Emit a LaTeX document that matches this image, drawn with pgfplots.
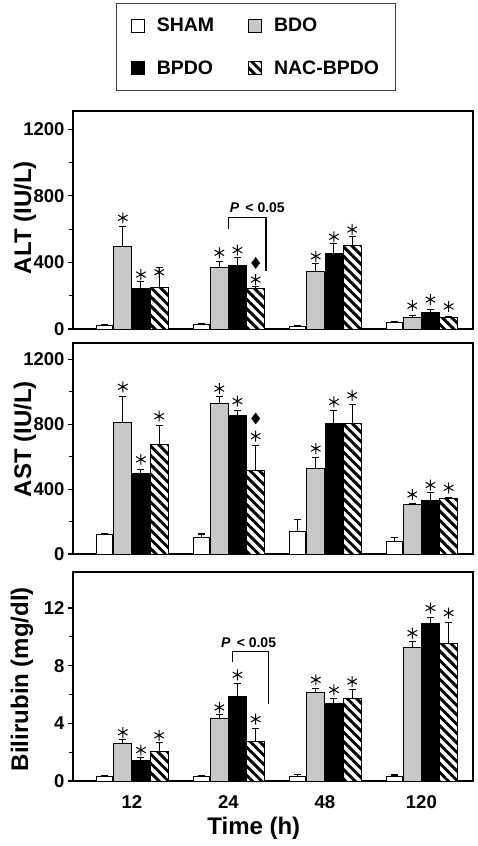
\documentclass[border=0pt]{standalone}
\usepackage{fontspec}
\setmainfont{Liberation Sans}
\usepackage{pgfplots}
\pgfplotsset{compat=1.18}
\usetikzlibrary{patterns.meta}
\definecolor{bdogray}{RGB}{200,200,200}
\tikzset{ylab/.style={rotate=90, anchor=center, inner sep=0pt, font=\fontsize{24}{28}\selectfont\bfseries}}
\pgfplotsset{
 panel/.style={
  scale only axis, width=400pt, xmin=-0.61, xmax=3.535, ymin=0,
  axis line style={line width=1.6pt},
  xtick={0,1,2,3}, xticklabels={}, xtick style={draw=none},
  ytick pos=left,
  tick align=outside, major tick length=5pt, minor tick length=3.5pt,
  every tick/.style={line width=1.1pt, black},
  every minor tick/.style={line width=1.1pt, black},
  tick label style={font=\fontsize{18.5}{20}\selectfont\bfseries},
  /pgf/number format/assume math mode=true,
  /pgf/number format/1000 sep={},
  scaled y ticks=false,
  label style={font=\fontsize{24}{28}\selectfont\bfseries},
  clip=false,
 },
 sqlegend/.style={legend image code/.code={\draw[##1] (0pt,-6.5pt) rectangle (13pt,6.5pt);}},
 errs/.style={error bars/.cd, y dir=plus, y explicit,
   error bar style={line width=1.1pt,black},
   error mark options={rotate=90,mark size=3.5pt,line width=1.1pt,black}},
 sham/.style={ybar, bar width=0.165, bar shift=0, fill=white, draw=black, line width=0.9pt, sqlegend, errs},
 bdo/.style={ybar, bar width=0.185, bar shift=0, fill=bdogray, draw=black, line width=0.9pt, sqlegend, errs},
 bpdo/.style={ybar, bar width=0.185, bar shift=0, fill=black, draw=black, line width=0.9pt, sqlegend, errs},
 nac/.style={ybar, bar width=0.185, bar shift=0, fill=white, draw=black, line width=0.9pt,
   postaction={pattern={Lines[angle=-45,distance=6.6pt,line width=2.9pt]}}, sqlegend, errs},
 star/.style={only marks, mark=asterisk, mark size=5.5pt, mark options={line width=1pt, black}, forget plot},
 diam/.style={only marks, mark=diamond*, mark size=5.5pt, mark options={black, fill=black}, forget plot},
}
\begin{document}
\begin{tikzpicture}
\useasboundingbox (0,0) rectangle (477pt,-846pt);

% ---------------- ALT ----------------
\begin{axis}[panel, at={(73pt,-329pt)}, anchor=south west, height=218pt, ymax=1310,
  ytick={0,400,800,1200}, minor ytick={200,600,1000},
  legend columns=2, legend cell align=left,
  legend style={at={(axis description cs:0.4575,1)}, anchor=south, yshift=20pt,
    font=\fontsize{19.5}{21}\selectfont\bfseries, draw=black!75, line width=0.9pt,
    /tikz/every odd column/.append style={column sep=10pt},
    /tikz/every even column/.append style={column sep=32pt},
    row sep=23pt, inner xsep=14pt, inner ysep=13pt}]
\addplot[sham] coordinates {(-0.282,22)+-(0,5) (0.718,28)+-(0,6) (1.718,18)+-(0,3) (2.718,38)+-(0,4)};
\addplot[bdo] coordinates {(-0.094,498)+-(0,116) (0.906,371)+-(0,36) (1.906,347)+-(0,44) (2.906,72)+-(0,8)};
\addplot[bpdo] coordinates {(0.094,241)+-(0,46) (1.094,383)+-(0,44) (2.094,453)+-(0,61) (3.094,102)+-(0,14)};
\addplot[nac] coordinates {(0.283,251)+-(0,116) (1.283,245)+-(0,8) (2.283,504)+-(0,54) (3.283,70)+-(0,2)};
\legend{SHAM,BDO,BPDO,NAC-BPDO}
\addplot[star] coordinates {(-0.094,668) (0.094,327) (0.283,341)
  (0.906,458) (1.094,474) (1.283,297)
  (1.906,437) (2.094,554) (2.283,598)
  (2.906,140) (3.094,177) (3.283,136)};
\addplot[diam] coordinates {(1.283,397)};
\draw[line width=1.1pt] (axis cs:1.0,602) -- (axis cs:1.0,672) -- (axis cs:1.39,672) -- (axis cs:1.39,347);
\node[font=\fontsize{14}{16}\selectfont\bfseries] at (axis cs:1.30,728) {\textit{P} \,< 0.05};
\node[ylab] at (axis description cs:-0.12,0.511) {ALT (IU/L)};
\end{axis}

% ---------------- AST ----------------
\begin{axis}[panel, at={(73pt,-554pt)}, anchor=south west, height=211pt, ymax=1300,
  ytick={0,400,800,1200}, minor ytick={200,600,1000}]
\addplot[sham] coordinates {(-0.282,123)+-(0,4) (0.718,103)+-(0,20) (1.718,142)+-(0,71) (2.718,78)+-(0,22)};
\addplot[bdo] coordinates {(-0.094,810)+-(0,162) (0.906,927)+-(0,45) (1.906,527)+-(0,68) (2.906,308)+-(0,4)};
\addplot[bpdo] coordinates {(0.094,496)+-(0,25) (1.094,851)+-(0,31) (2.094,804)+-(0,82) (3.094,328)+-(0,49)};
\addplot[nac] coordinates {(0.283,675)+-(0,119) (1.283,517)+-(0,154) (2.283,804)+-(0,119) (3.283,343)+-(0,2)};
\addplot[star] coordinates {(-0.094,1030) (0.094,583) (0.283,849)
  (0.906,1019) (1.094,942) (1.283,726)
  (1.906,650) (2.094,937) (2.283,978)
  (2.906,367) (3.094,425) (3.283,408)};
\addplot[diam] coordinates {(1.283,835)};
\node[ylab] at (axis description cs:-0.12,0.545) {AST (IU/L)};
\end{axis}

% ---------------- Bilirubin ----------------
\begin{axis}[panel, at={(73pt,-781pt)}, anchor=south west, height=209pt, ymax=14.5,
  ytick={0,4,8,12}, minor ytick={2,6,10},
  xticklabels={12,24,48,120}, xticklabel style={yshift=-6pt},
  xlabel={Time (h)},
  xlabel style={at={(axis description cs:0.452,0)}, anchor=center, yshift=-47pt}]
\addplot[sham] coordinates {(-0.282,0.30)+-(0,0.07) (0.718,0.32)+-(0,0.05) (1.718,0.30)+-(0,0.16) (2.718,0.30)+-(0,0.12)};
\addplot[bdo] coordinates {(-0.094,2.59)+-(0,0.26) (0.906,4.33)+-(0,0.26) (1.906,6.14)+-(0,0.30) (2.906,9.29)+-(0,0.39)};
\addplot[bpdo] coordinates {(0.094,1.41)+-(0,0.21) (1.094,5.86)+-(0,0.93) (2.094,5.40)+-(0,0.32) (3.094,10.91)+-(0,0.44)};
\addplot[nac] coordinates {(0.283,2.08)+-(0,0.58) (1.283,2.71)+-(0,0.93) (2.283,5.72)+-(0,0.65) (3.283,9.57)+-(0,1.43)};
\addplot[star] coordinates {(-0.094,3.38) (0.094,2.15) (0.283,3.17)
  (0.906,5.10) (1.094,7.37) (1.283,4.29)
  (1.906,7.02) (2.094,6.32) (2.283,6.90)
  (2.906,10.26) (3.094,12.0) (3.283,11.65)};
\draw[line width=1.1pt] (axis cs:1.045,8.29) -- (axis cs:1.045,8.99) -- (axis cs:1.42,8.99) -- (axis cs:1.42,5.35);
\node[font=\fontsize{14}{16}\selectfont\bfseries] at (axis cs:1.21,9.61) {\textit{P} \,< 0.05};
\node[ylab] at (axis description cs:-0.1275,0.488) {Bilirubin (mg/dl)};
\end{axis}
\end{tikzpicture}
\end{document}
